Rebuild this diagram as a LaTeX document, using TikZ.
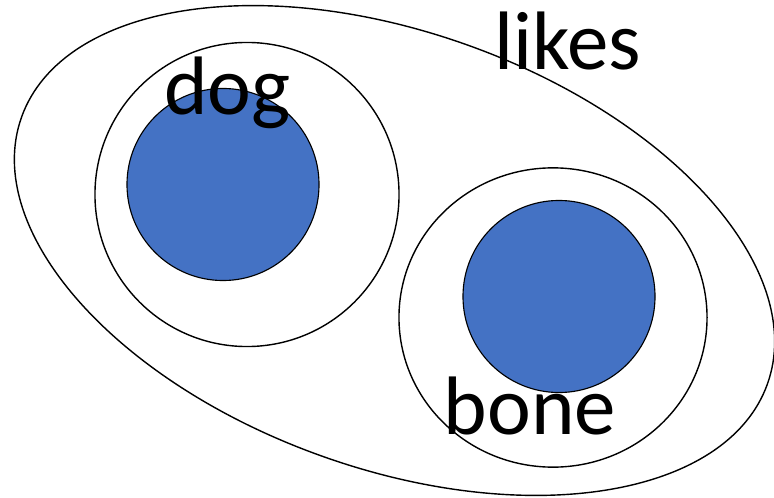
\documentclass[tikz,border=0pt]{standalone}
\usepackage{fontspec}
\setmainfont{Carlito}
\usetikzlibrary{positioning,shapes.geometric}
\definecolor{dotblue}{RGB}{68,114,196}

\begin{document}
\begin{tikzpicture}[x=0.025cm, y=-0.025cm,
  ring/.style={ellipse, draw=black, line width=1pt, fill=white, inner sep=0pt},
  core/.style={circle, draw=black, line width=0.8pt, fill=dotblue,
               minimum size=4.8cm, inner sep=0pt},
  word/.style={inner sep=0pt, anchor=base, font=\fontsize{59}{60}\selectfont}
]
  \useasboundingbox (0,0) rectangle (774,498);
  % outer relation
  \node[ellipse, draw=black, line width=1pt, inner sep=0pt,
        minimum width=19.8cm, minimum height=10.9cm, rotate=-19.7] (pair) at (394.5,250.5) {};
  % the two things
  \node[ring, minimum width=7.6cm, minimum height=7.6cm] (dogring) at (247,194.5) {};
  \node[ring, minimum width=7.7cm, minimum height=7.48cm] (bonering) at (553,317.5) {};
  \node[core] (dogcore) at (223,184.5) {};
  \node[core] (bonecore) at (559,296.5) {};
  % labels
  \node[word] (likes) at (567.5,70) {likes};
  \node[word] (dog) at (227.5,115) {dog};
  \node[word] (bone) at (530,434) {bone};
\end{tikzpicture}
\end{document}
